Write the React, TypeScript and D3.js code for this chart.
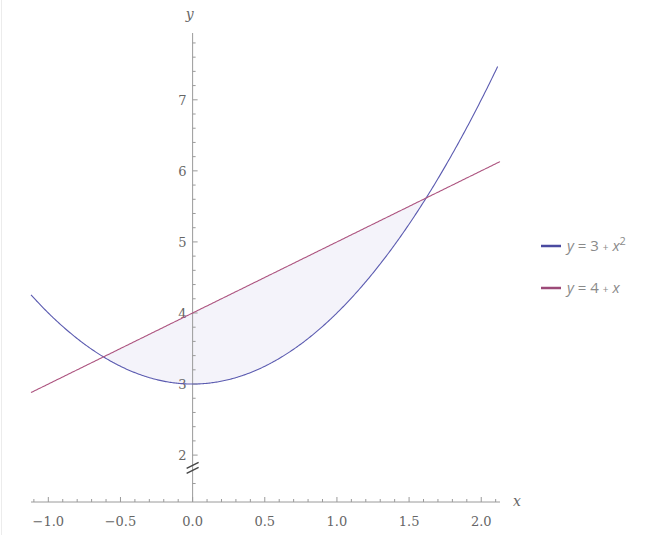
import React, { useEffect, useRef } from 'react';
import * as d3 from 'd3';

// curves as stated in the legend: y = a + b*x + c*x^2
const seriesLabels = ['y = 3 + x²', 'y = 4 + x'];
const seriesCoef = [
  [3, 0, 1],
  [4, 1, 0],
];
const seriesColors = ['#5b5bb0', '#ad5580'];
const legendColors = ['#4a4aa0', '#9c4a78'];
const xDomain = [-1.12, 2.13];
const yDomain = [1.34, 7.94];
const xMajor = [-1.0, -0.5, 0.0, 0.5, 1.0, 1.5, 2.0];
const yMajor = [2, 3, 4, 5, 6, 7];
const intersect = [(1 - Math.sqrt(5)) / 2, (1 + Math.sqrt(5)) / 2];

const f = (c: number[], x: number) => c[0] + c[1] * x + c[2] * x * x;

const App: React.FC = () => {
  const svgRef = useRef<SVGSVGElement>(null);
  const width = 656;
  const height = 535;

  useEffect(() => {
    document.body.style.margin = '0';
    const svg = d3.select(svgRef.current);
    svg.selectAll('*').remove();

    const xScale = d3.scaleLinear().domain(xDomain).range([31, 500]);
    const yScale = d3.scaleLinear().domain(yDomain).range([502, 33]);
    const x0 = xScale(0);
    const axisY = yScale(yDomain[0]);

    // faint left border
    svg.append('line')
      .attr('x1', 1.5).attr('x2', 1.5).attr('y1', 0).attr('y2', height)
      .attr('stroke', '#ececec');

    // shaded region between the curves
    const fillXs = d3.range(201).map(i => intersect[0] + (intersect[1] - intersect[0]) * i / 200);
    const area = d3.area<number>()
      .x(d => xScale(d))
      .y0(d => yScale(f(seriesCoef[0], d)))
      .y1(d => yScale(f(seriesCoef[1], d)));
    svg.append('path')
      .datum(fillXs)
      .attr('d', area)
      .attr('fill', '#f4f3fa');

    // axes
    const axisColor = '#9a9a9a';
    svg.append('line')
      .attr('x1', xScale(xDomain[0])).attr('x2', xScale(xDomain[1]))
      .attr('y1', axisY).attr('y2', axisY)
      .attr('stroke', axisColor);
    svg.append('line')
      .attr('x1', x0).attr('x2', x0)
      .attr('y1', yScale(yDomain[1])).attr('y2', axisY)
      .attr('stroke', axisColor);

    // x ticks
    const xMinor = d3.range(-11, 22).map(i => i / 10);
    svg.append('g').selectAll('line')
      .data(xMinor)
      .enter().append('line')
      .attr('x1', d => xScale(d)).attr('x2', d => xScale(d))
      .attr('y1', axisY).attr('y2', d => axisY - (Math.abs(d * 2 - Math.round(d * 2)) < 1e-6 ? 5 : 3))
      .attr('stroke', axisColor);
    svg.append('g').selectAll('text')
      .data(xMajor)
      .enter().append('text')
      .attr('x', d => xScale(d))
      .attr('y', axisY + 24)
      .attr('text-anchor', 'middle')
      .style('font-family', '"DejaVu Serif", serif')
      .style('font-size', '13px')
      .style('fill', '#666')
      .text(d => (d < 0 ? '\u2212' : '') + d3.format('.1f')(Math.abs(d)));

    // y ticks
    const yMinor = d3.range(8, 40).map(i => i / 5).filter(d => Math.abs(d - 1.8) > 1e-6);
    svg.append('g').selectAll('line')
      .data(yMinor)
      .enter().append('line')
      .attr('x1', x0).attr('x2', d => x0 + (Math.abs(d - Math.round(d)) < 1e-6 ? 5 : 3))
      .attr('y1', d => yScale(d)).attr('y2', d => yScale(d))
      .attr('stroke', axisColor);
    svg.append('g').selectAll('text')
      .data(yMajor)
      .enter().append('text')
      .attr('x', x0 - 6)
      .attr('y', d => yScale(d) + 5)
      .attr('text-anchor', 'end')
      .style('font-family', '"DejaVu Serif", serif')
      .style('font-size', '13px')
      .style('fill', '#666')
      .text(d => d);

    // axis break
    const by = yScale(1.82);
    [-2.5, 2.5].forEach(off => {
      svg.append('line')
        .attr('x1', x0 - 6).attr('x2', x0 + 6)
        .attr('y1', by + off + 3).attr('y2', by + off - 3)
        .attr('stroke', '#444').attr('stroke-width', 1.3);
    });

    // axis labels
    svg.append('text')
      .attr('x', x0 - 3).attr('y', 19)
      .attr('text-anchor', 'middle')
      .style('font-family', '"DejaVu Serif", serif')
      .style('font-style', 'italic')
      .style('font-size', '14px')
      .style('fill', '#666')
      .text('y');
    svg.append('text')
      .attr('x', 517).attr('y', axisY + 4)
      .attr('text-anchor', 'middle')
      .style('font-family', '"DejaVu Serif", serif')
      .style('font-style', 'italic')
      .style('font-size', '14px')
      .style('fill', '#666')
      .text('x');

    // curves
    const xs = d3.range(401).map(i => xDomain[0] + (xDomain[1] - xDomain[0]) * i / 400);
    seriesCoef.forEach((c, i) => {
      const line = d3.line<number>()
        .x(d => xScale(d))
        .y(d => yScale(f(c, d)));
      svg.append('path')
        .datum(xs.filter(x => f(c, x) <= 7.5))
        .attr('d', line)
        .attr('fill', 'none')
        .attr('stroke', seriesColors[i])
        .attr('stroke-width', 1.1);
    });

    // legend
    const legend = svg.append('g').attr('transform', 'translate(541, 246)');
    seriesLabels.forEach((label, i) => {
      const g = legend.append('g').attr('transform', `translate(0, ${i * 42})`);
      g.append('line')
        .attr('x1', 0).attr('x2', 20).attr('y1', 0).attr('y2', 0)
        .attr('stroke', legendColors[i]).attr('stroke-width', 2.5);
      const t = g.append('text')
        .attr('x', 26).attr('y', 5)
        .style('font-family', '"Open Sans", sans-serif')
        .style('font-size', '15px')
        .style('fill', '#8a8a8a');
      const parts = label.split(' ');
      t.append('tspan').style('font-style', 'italic').text('y');
      t.append('tspan').text(' = ' + parts[2] + ' ');
      t.append('tspan').style('font-size', '10px').text('+');
      if (i === 0) {
        t.append('tspan').style('font-style', 'italic').text(' x');
        t.append('tspan').attr('dy', -6).style('font-size', '11px').text('2');
      } else {
        t.append('tspan').style('font-style', 'italic').text(' x');
      }
    });
  }, []);

  return (
    <svg
      ref={svgRef}
      width={width}
      height={height}
      style={{ display: 'block', background: '#fff' }}
    />
  );
};

export default App;
